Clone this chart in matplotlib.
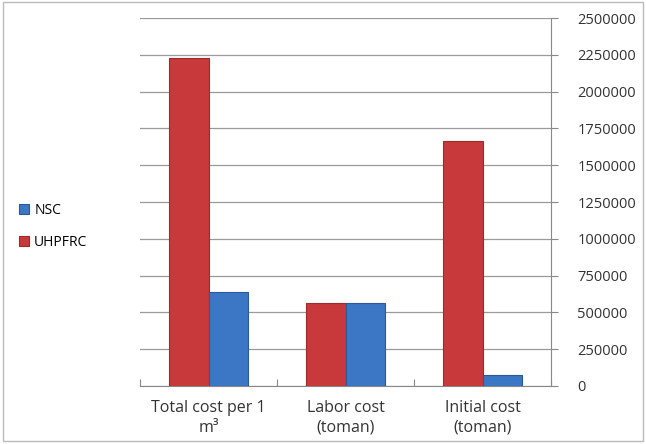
import numpy as np
import matplotlib.pyplot as plt
from matplotlib.patches import Rectangle

plt.rcParams['font.family'] = ['Open Sans', 'DejaVu Sans']

categories = ['Total cost per 1\nm³', 'Labor cost\n(toman)', 'Initial cost\n(toman)']
uhpfrc = [2230000, 560000, 1665000]
nsc = [635000, 562000, 72000]
yticks = list(range(0, 2500001, 250000))

fig = plt.figure(figsize=(6.46, 4.44), dpi=100)
ax = fig.add_axes([0.217, 0.131, 0.636, 0.828])

x = np.arange(len(categories))
w = 0.29
ax.bar(x - w / 2, uhpfrc, w, color='#C7393B', edgecolor='#9E2A2C', linewidth=0.8,
       label='UHPFRC', zorder=3)
ax.bar(x + w / 2, nsc, w, color='#3C77C5', edgecolor='#2B5A9A', linewidth=0.8,
       label='NSC', zorder=3)

ax.set_xlim(-0.5, 2.5)
ax.set_ylim(0, 2500000)
ax.set_yticks(yticks)
ax.set_yticklabels([str(v) for v in yticks])
ax.yaxis.tick_right()
ax.tick_params(axis='y', length=5, width=0.8, color='#888888', pad=14,
               labelsize=10.5, labelcolor='#333333')
ax.grid(axis='y', color='#9A9A9A', linewidth=0.9, zorder=0)

# category ticks at boundaries
ax.set_xticks([-0.5, 0.5, 1.5, 2.5])
ax.set_xticklabels([])
ax.set_xticks(x, minor=True)
ax.set_xticklabels(categories, minor=True, linespacing=1.35)
ax.tick_params(axis='x', which='major', length=5, color='#888888', direction='in')
ax.tick_params(axis='x', which='minor', length=0, pad=10, labelsize=11.5,
               labelcolor='#333333')

for s in ['top', 'left']:
    ax.spines[s].set_visible(False)
ax.spines['right'].set_color('#888888')
ax.spines['bottom'].set_color('#888888')

h, l = ax.get_legend_handles_labels()
fig.legend(h[::-1], l[::-1], loc='center left', bbox_to_anchor=(0.01, 0.49),
           frameon=False, fontsize=10, handlelength=0.7, handleheight=0.7,
           handletextpad=0.4, labelspacing=1.25)

fig.patches.append(Rectangle((0.004, 0.006), 0.992, 0.99, transform=fig.transFigure,
                             fill=False, edgecolor='#BBBBBB', linewidth=1))

fig.savefig('out.png', dpi=100)
